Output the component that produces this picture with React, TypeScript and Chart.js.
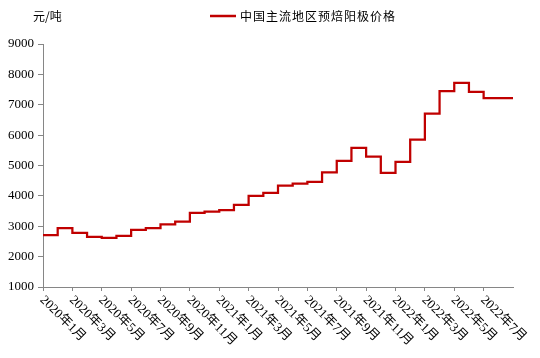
import React, { useEffect, useRef } from 'react';
import { Chart, registerables } from 'chart.js';

Chart.register(...registerables);

const months = [
  '2020年1月', '2020年2月', '2020年3月', '2020年4月', '2020年5月', '2020年6月',
  '2020年7月', '2020年8月', '2020年9月', '2020年10月', '2020年11月', '2020年12月',
  '2021年1月', '2021年2月', '2021年3月', '2021年4月', '2021年5月', '2021年6月',
  '2021年7月', '2021年8月', '2021年9月', '2021年10月', '2021年11月', '2021年12月',
  '2022年1月', '2022年2月', '2022年3月', '2022年4月', '2022年5月', '2022年6月',
  '2022年7月', '2022年8月',
];

const prices = [
  2710, 2710, 2940, 2780, 2650, 2620, 2680, 2880, 2940, 3060, 3150, 3440,
  3480, 3530, 3700, 4000, 4100, 4340, 4400, 4460, 4770, 5150, 5580, 5290,
  4760, 5120, 5850, 6710, 7450, 7720, 7420, 7220,
];

const tickLabels = [
  '2020年1月', '2020年3月', '2020年5月', '2020年7月', '2020年9月', '2020年11月',
  '2021年1月', '2021年3月', '2021年5月', '2021年7月', '2021年9月', '2021年11月',
  '2022年1月', '2022年3月', '2022年5月', '2022年7月',
];

const yTicks = [1000, 2000, 3000, 4000, 5000, 6000, 7000, 8000, 9000];

const seriesName = '中国主流地区预焙阳极价格';
const unitLabel = '元/吨';

const LINE_COLOR = '#C00000';
const AXIS_COLOR = '#868686';

export default function App() {
  const canvasRef = useRef<HTMLCanvasElement | null>(null);

  useEffect(() => {
    document.body.style.margin = '0';
    const canvas = canvasRef.current;
    if (!canvas) return;

    const points = prices.map((v, i) => ({ x: i, y: v }));
    points.push({ x: prices.length, y: prices[prices.length - 1] });

    const overlay = {
      id: 'overlay',
      afterDraw(chart: any) {
        const ctx = chart.ctx;
        const xs = chart.scales.x;
        ctx.save();
        // x labels rotated 45deg clockwise, starting at tick
        ctx.fillStyle = '#000';
        ctx.font = "13px 'Liberation Serif', 'Noto Sans CJK SC'";
        ctx.textAlign = 'left';
        ctx.textBaseline = 'middle';
        tickLabels.forEach((lab) => {
          const idx = months.indexOf(lab);
          const px = xs.getPixelForValue(idx);
          ctx.save();
          ctx.translate(px - 1, chart.chartArea.bottom + 11);
          ctx.rotate(Math.PI / 4);
          ctx.fillText(lab, 0, 0);
          ctx.restore();
        });
        // unit label
        ctx.font = "12px 'Noto Sans CJK SC'";
        ctx.textBaseline = 'middle';
        ctx.fillText(unitLabel, 33, 16);
        // legend
        ctx.strokeStyle = LINE_COLOR;
        ctx.lineWidth = 2.5;
        ctx.beginPath();
        ctx.moveTo(210, 16);
        ctx.lineTo(236, 16);
        ctx.stroke();
        (ctx as any).letterSpacing = '1px';
        ctx.fillText(seriesName, 240, 16);
        ctx.restore();
      },
    };

    const chart = new Chart(canvas, {
      type: 'line',
      data: {
        datasets: [
          {
            label: seriesName,
            data: points,
            borderColor: LINE_COLOR,
            backgroundColor: LINE_COLOR,
            borderWidth: 2.25,
            pointRadius: 0,
            stepped: 'after',
            fill: false,
          },
        ],
      },
      options: {
        responsive: false,
        animation: false,
        layout: { padding: { top: 44, right: 27, left: 0, bottom: 0 } },
        plugins: {
          legend: { display: false },
          tooltip: { enabled: false },
        },
        scales: {
          x: {
            type: 'linear',
            min: 0,
            max: months.length,
            afterBuildTicks: (scale: any) => {
              scale.ticks = tickLabels.map((lab) => ({ value: months.indexOf(lab) }));
            },
            afterFit: (scale: any) => {
              scale.height = 71;
            },
            ticks: { display: false },
            grid: {
              display: true,
              drawOnChartArea: false,
              drawTicks: true,
              tickLength: 4,
              color: AXIS_COLOR,
            },
            border: { display: true, color: AXIS_COLOR, width: 1 },
          },
          y: {
            min: 1000,
            max: 9000,
            afterBuildTicks: (scale: any) => {
              scale.ticks = yTicks.map((v) => ({ value: v }));
            },
            afterFit: (scale: any) => {
              scale.width = 43;
            },
            ticks: {
              color: '#000',
              padding: 4,
              font: { family: "'Liberation Serif'", size: 13 },
              callback: (v: any) => String(v),
            },
            grid: {
              display: true,
              drawOnChartArea: false,
              drawTicks: true,
              tickLength: 5,
              color: AXIS_COLOR,
            },
            border: { display: true, color: AXIS_COLOR, width: 1 },
          },
        },
      },
      plugins: [overlay],
    } as any);

    return () => chart.destroy();
  }, []);

  return (
    <div style={{ width: 540, height: 358 }}>
      <canvas ref={canvasRef} width={540} height={358} style={{ display: 'block' }} />
    </div>
  );
}
